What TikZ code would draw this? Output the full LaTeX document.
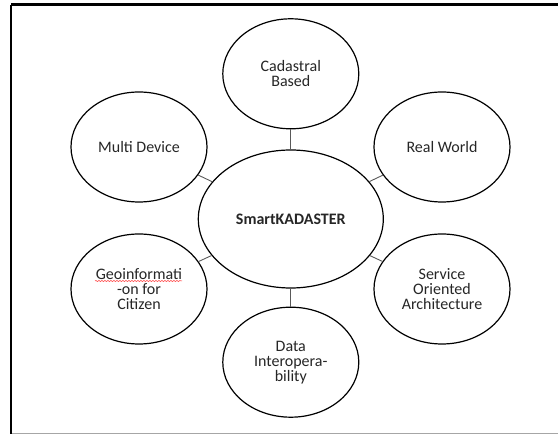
\documentclass[tikz,border=0pt]{standalone}
\usepackage{fontspec}
\setmainfont{Carlito}
\usetikzlibrary{positioning,shapes.geometric,decorations.pathmorphing}

\begin{document}
\begin{tikzpicture}[x=1pt,y=-1pt,
            topic/.style={ellipse, draw=black, line width=1.2pt, minimum width=136pt, minimum height=110pt, inner sep=0pt, align=center, text=black!85, font=\fontsize{16}{15}\selectfont},
            hub/.style={topic, minimum width=185pt, minimum height=138pt, font=\fontsize{16}{15}\selectfont\bfseries},
            link/.style={draw=black!65, line width=0.9pt},
            ]
            \useasboundingbox (0,0) rectangle (558,435);

            %Frame
            \draw[line width=2.4pt] (11,4.7) -- (558,4.7);
            \draw[line width=2.4pt] (11,4.7) -- (11,434);
            \draw[black!35, line width=1.3pt] (12,433.6) -- (558,433.6);

            %Nodes
            \node[hub]      (smart)  at (290.8,219)    {SmartKADASTER};
            \node[topic]    (cadas)  [above=20pt of smart] {Cadastral\\Based};
            \node[topic]    (multi)  at (139,147)      {Multi Device};
            \node[topic]    (real)   at (442,147)      {Real World};
            \node[topic]    (geo)    at (139,289)      {Geoinformati\\-on for\\Citizen};
            \node[topic]    (soa)    at (442,289)      {Service\\Oriented\\Architecture};
            \node[topic]    (data)   [below=18pt of smart] {Data\\Interopera-\\bility};

            %Lines
            \foreach \n in {cadas,multi,real,geo,soa,data}
                \draw[link] (smart) -- (\n);

            %spell-check mark
            \draw[red!80, line width=0.5pt, decorate, decoration={snake, amplitude=0.5pt, segment length=3pt}]
                (95,281) -- (182,281);

        \end{tikzpicture}
\end{document}
